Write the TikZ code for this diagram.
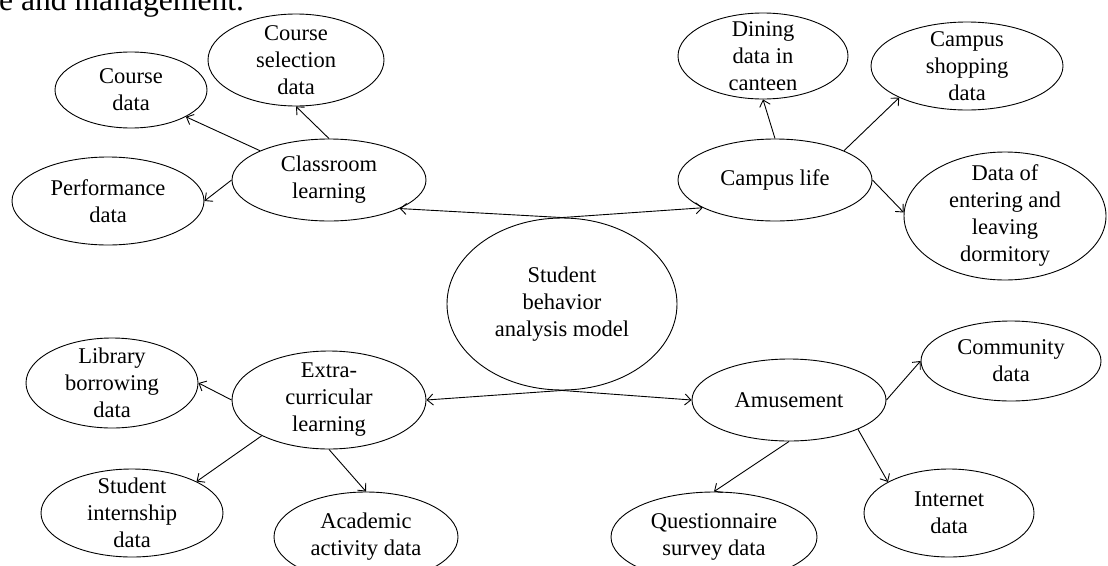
\documentclass[tikz,border=0pt]{standalone}
\usepackage{fontspec}
\setmainfont{Liberation Serif}
\usetikzlibrary{shapes.geometric,arrows.meta}
\begin{document}
\begin{tikzpicture}[x=1pt,y=-1pt,
  ell/.style args={#1/#2}{draw, ellipse, line width=0.9pt, inner sep=0pt, minimum width=#1pt, minimum height=#2pt},
  txt/.style={align=center, font=\fontsize{22.5}{27}\selectfont, inner sep=0pt},
  arr/.style={line width=0.9pt, -{Straight Barb[length=6pt,width=11pt]}}]
\useasboundingbox (0,0) rectangle (1108,565);
\clip (0,0) rectangle (1108,565);
\fill[white] (0,0) rectangle (1108,565);

\node[anchor=base west, inner sep=0pt, font=\fontsize{31.6}{36}\selectfont] (top) at (-1,10.5) {e and management.};

% centre
\node[ell=230/172] (c) at (562,304) {};
\node[txt] (ct) at (c) {Student\\behavior\\analysis model};

% classroom branch
\node[ell=194/82] (cl) at (329,180) {};
\node[txt] (clt) at (cl) {Classroom\\learning};
\node[ell=152/76] (cd) at (131,90) {};
\node[txt] (cdt) at (cd) {Course\\data};
\node[ell=176/92] (cs) at (296,60) {};
\node[txt] (cst) at (cs) {Course\\selection\\data};
\node[ell=192/88] (pd) at (108,201) {};
\node[txt] (pdt) at (pd) {Performance\\data};

% campus life branch
\node[ell=194/82] (lf) at (775,180) {};
\node[txt] (lft) at (lf) {Campus life};
\node[ell=170/86] (dn) at (763,56) {};
\node[txt] (dnt) at (dn) {Dining\\data in\\canteen};
\node[ell=192/88] (sh) at (967,66) {};
\node[txt] (sht) at (sh) {Campus\\shopping\\data};
\node[ell=202/128] (dm) at (1005,216) {};
\node[txt] (dmt) at (dm) {Data of\\entering and\\leaving\\dormitory};

% extra-curricular branch
\node[ell=194/98] (ex) at (329,400) {};
\node[txt] (ext) at (ex) {Extra-\\curricular\\learning};
\node[ell=172/90] (lb) at (112,383) {};
\node[txt] (lbt) at (lb) {Library\\borrowing\\data};
\node[ell=182/88] (si) at (132,513) {};
\node[txt] (sit) at (si) {Student\\internship\\data};
\node[ell=184/90] (ac) at (366,537) {};
\node[txt] (act) at (ac) {Academic\\activity data};

% amusement branch
\node[ell=194/82] (am) at (789,400) {};
\node[txt] (amt) at (am) {Amusement};
\node[ell=180/80] (cm) at (1011,361) {};
\node[txt] (cmt) at (cm) {Community\\data};
\node[ell=170/88] (in) at (949,513) {};
\node[txt] (int) at (in) {Internet\\data};
\node[ell=206/90] (qs) at (714,537) {};
\node[txt] (qst) at (qs) {Questionnaire\\survey data};

% connectors
\draw[arr] (c.north) -- (cl.-22);
\draw[arr] (c.north) -- (lf.201);
\draw[arr] (c.south) -- (ex.east);
\draw[arr] (c.south) -- (am.west);

\draw[arr] (cl.157) -- (cd.-26);
\draw[arr] (cl.north) -- (cs.south);
\draw[arr] (cl.west) -- (pd.east);

\draw[arr] (lf.north) -- (dn.south);
\draw[arr] (lf.23) -- (sh.205);
\draw[arr] (lf.east) -- (dm.178);

\draw[arr] (ex.west) -- (lb.east);
\draw[arr] (ex.208) -- (si.26);
\draw[arr] (ex.south) -- (ac.north);

\draw[arr] (am.east) -- (cm.west);
\draw[arr] (am.-23) -- (in.153);
\draw[arr] (am.south) -- (qs.north);
\end{tikzpicture}
\end{document}
